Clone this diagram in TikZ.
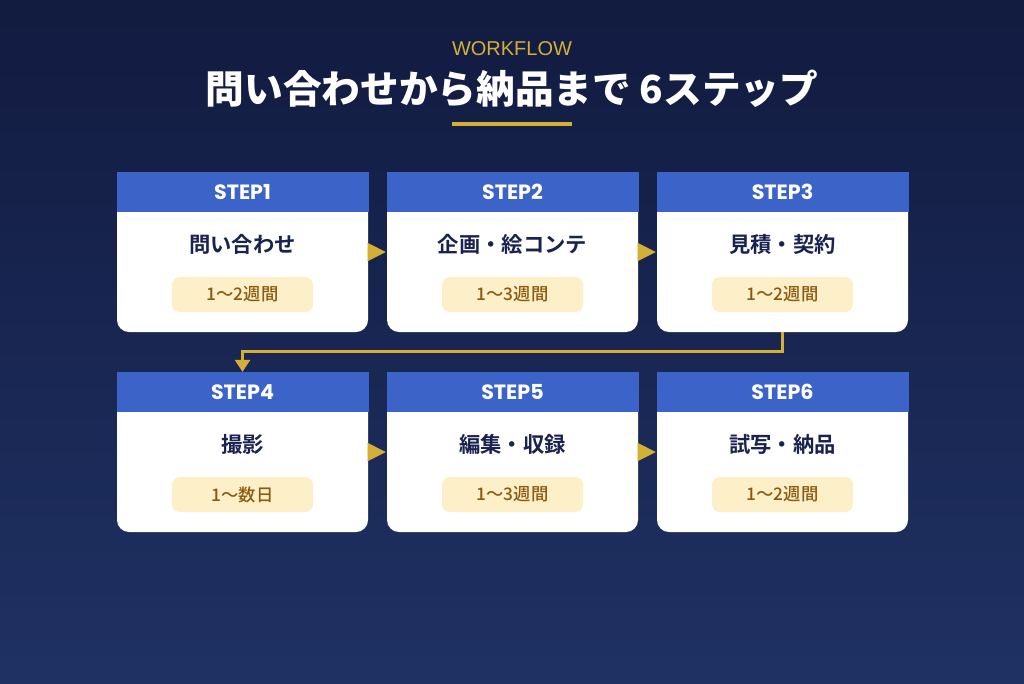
\documentclass[tikz,border=0pt]{standalone}
\usepackage{fontspec}
\usetikzlibrary{arrows.meta,positioning}
\setmainfont{Liberation Sans}
\newfontfamily\jpfont[BoldFont={Noto Sans CJK JP Bold}]{Noto Sans CJK JP}
\newfontfamily\jpheavy{Noto Sans CJK JP Black}
\newfontfamily\jpmed{Noto Sans CJK JP Medium}
\newfontfamily\popfont{Poppins}
\definecolor{navytop}{HTML}{121B40}
\definecolor{navybot}{HTML}{1F3163}
\definecolor{stepblue}{HTML}{3C64C8}
\definecolor{gold}{HTML}{D4AF37}
\definecolor{ink}{HTML}{1A2350}
\definecolor{cream}{HTML}{FDEFC8}
\definecolor{rust}{HTML}{8B5A10}

\begin{document}
\begin{tikzpicture}[x=0.75pt,y=-0.75pt,
    card/.style={fill=white, rounded corners=9pt, minimum width=188.25pt, minimum height=105pt, inner sep=0pt},
    head/.style={fill=stepblue, draw=stepblue, line width=0.6pt, minimum width=188.25pt, minimum height=29.5pt,
                 inner sep=0pt, text=white, font=\popfont\bfseries\fontsize{15.5}{18}\selectfont},
    task/.style={text=ink, inner sep=0pt, font=\jpfont\bfseries\fontsize{16}{19}\selectfont},
    pill/.style={fill=cream, rounded corners=6pt, minimum width=105.75pt, minimum height=26.25pt, inner sep=0pt,
                 text=rust, font=\jpmed\fontsize{13}{16}\selectfont},
    nextarrow/.style={draw=gold, line width=0.2pt, -{Triangle[length=13.5pt,width=13.5pt]}, shorten >=0.75pt},
    link/.style={draw=gold, line width=2.25pt, -{Triangle[length=9pt,width=11pt]}}]
                            % background
                            \shade[top color=navytop, bottom color=navybot] (0,0) rectangle (1024,683);
                            \useasboundingbox (0,0) rectangle (1024,683);
                            % heading
                            \node[text=gold, font=\fontsize{15}{18}\selectfont] (kicker) at (512,49) {WORKFLOW};
                            \node[text=white, font=\jpheavy\fontsize{29}{34}\selectfont] (title) at (512,89) {問い合わせから納品まで 6ステップ};
                            \node[fill=gold, minimum width=90pt, minimum height=3pt, inner sep=0pt] (bar) at (512,124) {};
                            % row 1
                            \node[card] (b1) at (242.5,262) {};
                            \node[head] (h1) at (242.5,192) {STEP1};
                            \node[task] (t1) at (242.5,244) {問い合わせ};
                            \node[pill] (p1) at (242.5,294.5) {1〜2週間};
                            \node[card] (b2) at (512.5,262) {};
                            \node[head] (h2) at (512.5,192) {STEP2};
                            \node[task] (t2) at (512.5,244) {企画・絵コンテ};
                            \node[pill] (p2) at (512.5,294.5) {1〜3週間};
                            \node[card] (b3) at (782.5,262) {};
                            \node[head] (h3) at (782.5,192) {STEP3};
                            \node[task] (t3) at (782.5,244) {見積・契約};
                            \node[pill] (p3) at (782.5,294.5) {1〜2週間};
                            % row 2
                            \node[card] (b4) at (242.5,462) {};
                            \node[head] (h4) at (242.5,392) {STEP4};
                            \node[task] (t4) at (242.5,444) {撮影};
                            \node[pill] (p4) at (242.5,494.5) {1〜数日};
                            \node[card] (b5) at (512.5,462) {};
                            \node[head] (h5) at (512.5,392) {STEP5};
                            \node[task] (t5) at (512.5,444) {編集・収録};
                            \node[pill] (p5) at (512.5,494.5) {1〜3週間};
                            \node[card] (b6) at (782.5,462) {};
                            \node[head] (h6) at (782.5,392) {STEP6};
                            \node[task] (t6) at (782.5,444) {試写・納品};
                            \node[pill] (p6) at (782.5,494.5) {1〜2週間};
                            % arrows
                            \draw[nextarrow] ([yshift=7.5pt]b1.east) -- ([yshift=7.5pt]b2.west);
                            \draw[nextarrow] ([yshift=7.5pt]b2.east) -- ([yshift=7.5pt]b3.west);
                            \draw[nextarrow] ([yshift=7.5pt]b4.east) -- ([yshift=7.5pt]b5.west);
                            \draw[nextarrow] ([yshift=7.5pt]b5.east) -- ([yshift=7.5pt]b6.west);
                            \draw[link] (b3.south) -- ++(0,19.5) -| (h4.north);
                        \end{tikzpicture}
\end{document}
